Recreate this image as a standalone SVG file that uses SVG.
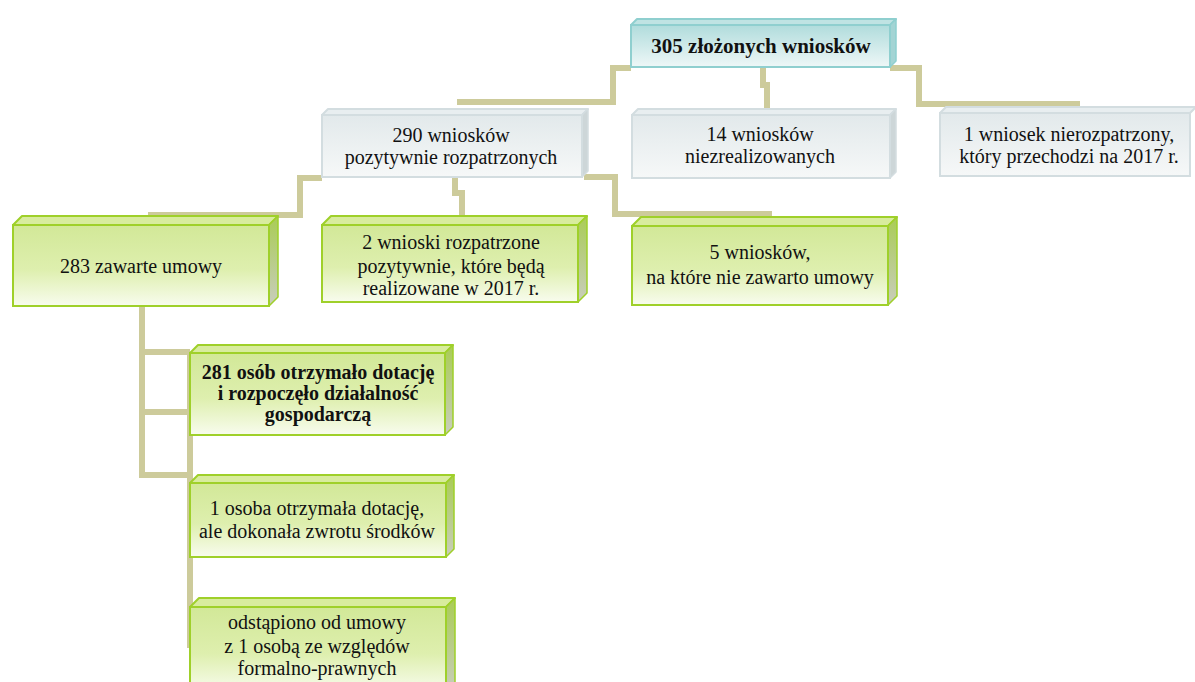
<svg xmlns="http://www.w3.org/2000/svg" width="1195" height="682" viewBox="0 0 1195 682">
<defs>
<linearGradient id="gGreen" x1="0" y1="0" x2="0" y2="1">
<stop offset="0" stop-color="#d2e898"/>
<stop offset="0.55" stop-color="#deefae"/>
<stop offset="1" stop-color="#f8fcee"/>
</linearGradient>
<linearGradient id="gGreenSide" x1="0" y1="0" x2="0" y2="1">
<stop offset="0" stop-color="#a9cc55"/>
<stop offset="1" stop-color="#c9cdbd"/>
</linearGradient>
<linearGradient id="gGrey" x1="0" y1="0" x2="0" y2="1">
<stop offset="0" stop-color="#e2e9eb"/>
<stop offset="1" stop-color="#f6f8f8"/>
</linearGradient>
<linearGradient id="gTeal" x1="0" y1="0" x2="0" y2="1">
<stop offset="0" stop-color="#b0dcdc"/>
<stop offset="1" stop-color="#eef7f7"/>
</linearGradient>
</defs>
<style>
.conn{fill:none;stroke:#cdcb9b;stroke-width:6;stroke-linejoin:miter;stroke-linecap:butt}
.gf{fill:url(#gGreen);stroke:#9fd02a;stroke-width:2}
.gt{fill:#d8ec9e;stroke:#9fd02a;stroke-width:2;stroke-linejoin:round}
.gs{fill:url(#gGreenSide);stroke:#9fd02a;stroke-width:1.5;stroke-linejoin:round}
.rf{fill:url(#gGrey);stroke:#d3dde0;stroke-width:2}
.rt{fill:#e8eef0;stroke:#d3dde0;stroke-width:2;stroke-linejoin:round}
.rs{fill:#cdd6d8;stroke:#d3dde0;stroke-width:1.5;stroke-linejoin:round}
.tf{fill:url(#gTeal);stroke:#8fcfcf;stroke-width:2}
.tt{fill:#bfe3e3;stroke:#8fcfcf;stroke-width:2;stroke-linejoin:round}
.ts{fill:#a3d4d4;stroke:#8fcfcf;stroke-width:1.5;stroke-linejoin:round}
text{font-family:"Liberation Serif","Times New Roman",serif;font-size:20px;fill:#111;text-anchor:middle}
.b{font-weight:bold}
</style>
<g id="connectors">
<path class="conn" d="M631,68 H613 V102 H457"/>
<path class="conn" d="M763,67 V85 H767 V110"/>
<path class="conn" d="M890,68 H919 V104 H1080"/>
<path class="conn" d="M322,178 H300 V215 H148"/>
<path class="conn" d="M455,177 V193 H462 V220"/>
<path class="conn" d="M584,177 H615 V214 H772"/>
<path class="conn" d="M142,306 V475 H190"/>
<path class="conn" d="M142,352 H190"/>
<path class="conn" d="M142,412 H190"/>
<path class="conn" d="M190,352 V648"/>
</g>
<g id="n305">
<polygon class="tt" points="631,25 637,19 896,19 890,25"/>
<polygon class="ts" points="890,25 896,19 896,61 890,67"/>
<rect class="tf" x="631" y="25" width="259" height="42"/>
<text class="b" x="761" y="53" style="font-size:21px">305 złożonych wniosków</text>
</g>
<g id="n290">
<polygon class="rt" points="322,115 328,109 588,109 582,115"/>
<polygon class="rs" points="582,115 588,109 588,171 582,177"/>
<rect class="rf" x="322" y="115" width="260" height="62"/>
<text x="451" y="142">290 wniosków</text>
<text x="451" y="164">pozytywnie rozpatrzonych</text>
</g>
<g id="n14">
<polygon class="rt" points="632,115 638,109 896,109 890,115"/>
<polygon class="rs" points="890,115 896,109 896,172 890,178"/>
<rect class="rf" x="632" y="115" width="258" height="63"/>
<text x="760" y="141">14 wniosków</text>
<text x="760" y="163">niezrealizowanych</text>
</g>
<g id="n1w">
<polygon class="rt" points="940,113 946,107 1196,107 1190,113"/>
<rect class="rf" x="940" y="113" width="250" height="63"/>
<text x="1069" y="141">1 wniosek nierozpatrzony,</text>
<text x="1069" y="163">który przechodzi na 2017 r.</text>
</g>
<g id="n283">
<polygon class="gt" points="13,225 22,216 278,216 269,225"/>
<polygon class="gs" points="269,225 278,216 278,297 269,306"/>
<rect class="gf" x="13" y="225" width="256" height="81"/>
<text x="141" y="273">283 zawarte umowy</text>
</g>
<g id="n2w">
<polygon class="gt" points="322,225 331,216 587,216 578,225"/>
<polygon class="gs" points="578,225 587,216 587,293 578,302"/>
<rect class="gf" x="322" y="225" width="256" height="77"/>
<text x="451" y="249">2 wnioski rozpatrzone</text>
<text x="451" y="273">pozytywnie, które będą</text>
<text x="451" y="295">realizowane w 2017 r.</text>
</g>
<g id="n5w">
<polygon class="gt" points="632,226 641,217 897,217 888,226"/>
<polygon class="gs" points="888,226 897,217 897,296 888,305"/>
<rect class="gf" x="632" y="226" width="256" height="79"/>
<text x="760" y="259">5 wniosków,</text>
<text x="760" y="284">na które nie zawarto umowy</text>
</g>
<g id="n281">
<polygon class="gt" points="190,353 198,345 453,345 445,353"/>
<polygon class="gs" points="445,353 453,345 453,427 445,435"/>
<rect class="gf" x="190" y="353" width="255" height="82"/>
<text class="b" x="318" y="379">281 osób otrzymało dotację</text>
<text class="b" x="318" y="400">i rozpoczęło działalność</text>
<text class="b" x="318" y="421">gospodarczą</text>
</g>
<g id="n1o">
<polygon class="gt" points="190,483 198,475 454,475 446,483"/>
<polygon class="gs" points="446,483 454,475 454,549 446,557"/>
<rect class="gf" x="190" y="483" width="256" height="74"/>
<text x="317" y="515">1 osoba otrzymała dotację,</text>
<text x="317" y="538">ale dokonała zwrotu środków</text>
</g>
<g id="nodst">
<polygon class="gt" points="190,607 199,598 455,598 446,607"/>
<polygon class="gs" points="446,607 455,598 455,683 446,692"/>
<rect class="gf" x="190" y="607" width="256" height="85"/>
<text x="317" y="629">odstąpiono od umowy</text>
<text x="317" y="653">z 1 osobą ze względów</text>
<text x="317" y="675">formalno-prawnych</text>
</g>
</svg>
